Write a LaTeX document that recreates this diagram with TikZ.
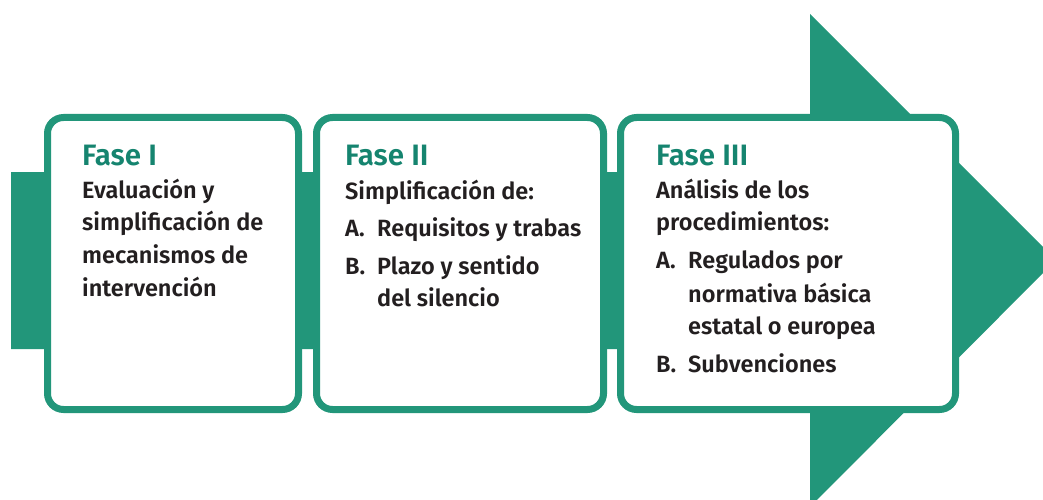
\documentclass[tikz,border=0pt]{standalone}
\usepackage{fontspec}
\setmainfont{Fira Sans}[UprightFont={* SemiBold},BoldFont={* Bold}]
\definecolor{tealA}{HTML}{22967A}
\definecolor{tealT}{HTML}{15846F}
\definecolor{txt}{HTML}{231F20}
\begin{document}
\begin{tikzpicture}[x=1pt,y=-1pt,
  phasebox/.style={draw=tealA,line width=7pt,fill=white,rounded corners=16pt},
  title/.style={anchor=base west,inner sep=0pt,text=tealT,font=\fontsize{29.5}{31}\selectfont},
  body/.style={anchor=base west,inner sep=0pt,text=txt,font=\fontsize{23.5}{26}\selectfont}]
\useasboundingbox (0,0) rectangle (1043,500);
\clip (0,0) rectangle (1043,500);
% big arrow
\fill[tealA] (11,172) -- (810,172) -- (810,14) -- (1056,260) -- (810,507) -- (810,349) -- (11,349) -- cycle;
% boxes
\draw[phasebox] (47.5,117.5) rectangle (298.5,409.5);
\draw[phasebox] (316.5,117.5) rectangle (603.5,409.5);
\draw[phasebox] (620.5,117.5) rectangle (955.5,409.5);
% box 1
\node[title] (t1) at (82,165) {Fase I};
\node[body] (b1a) at (82,198) {Evaluación y};
\node[body] (b1b) at (82,230) {simplificación de};
\node[body] (b1c) at (82,263) {mecanismos de};
\node[body] (b1d) at (82,296) {intervención};
% box 2
\node[title] (t2) at (345,165) {Fase II};
\node[body] (b2a) at (345,199) {Simplificación de:};
\node[body] (b2b) at (345,236) {A.};
\node[body] (b2c) at (377,236) {Requisitos y trabas};
\node[body] (b2d) at (345,274) {B.};
\node[body] (b2e) at (377,274) {Plazo y sentido};
\node[body] (b2f) at (377,306) {del silencio};
% box 3
\node[title] (t3) at (656,165) {Fase III};
\node[body] (b3a) at (656,198) {Análisis de los};
\node[body] (b3b) at (656,230) {procedimientos:};
\node[body] (b3c) at (656,268) {A.};
\node[body] (b3d) at (688,268) {Regulados por};
\node[body] (b3e) at (688,302) {normativa básica};
\node[body] (b3f) at (688,334) {estatal o europea};
\node[body] (b3g) at (656,372) {B.};
\node[body] (b3h) at (688,372) {Subvenciones};
\end{tikzpicture}
\end{document}
